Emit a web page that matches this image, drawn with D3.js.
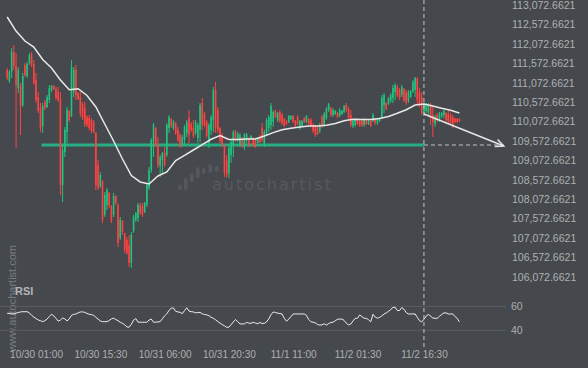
<!DOCTYPE html>
<html>
<head>
<meta charset="utf-8">
<script src="https://cdn.jsdelivr.net/npm/d3@7"></script>
<style>
  html, body { margin: 0; padding: 0; background: #45484c; }
  svg { display: block; font-family: "Liberation Sans", Arial, sans-serif; }
</style>
</head>
<body>
<svg id="chart" width="588" height="368"></svg>
<script>
// 30 minute candles, the first one opens 10/29 18:30 (UTC)
const firstCandle = Date.UTC(2025, 9, 29, 18, 30);
const candleMs = 30 * 60 * 1000;

const opens = [
  111398,111114,111346,111861,111501,110934,111011,110496,111527,111243,
  111578,111810,111552,111140,110702,110419,109955,110574,110445,110625,
  110883,110986,110908,110831,110651,108435,109286,109801,110342,110213,
  110831,111398,110805,110702,110522,110419,110187,110161,110110,110058,
  109775,108951,108410,108538,107663,107920,108229,107894,107663,108152,
  107920,107070,107508,107199,107019,106890,106426,107250,107534,107585,
  107920,107894,107740,107920,108358,108822,109543,109904,109466,108925,
  109079,109260,109208,109904,110136,109904,110033,109852,109723,109466,
  109595,109775,110161,110007,109904,109775,109646,109852,110548,110264,
  110058,109517,109852,110110,110883,110367,109904,109723,109440,109079,
  108745,109208,109466,109801,109595,109466,109646,109414,109569,109646,
  109595,109646,109595,109517,109672,109904,109466,109775,109904,109981,
  110058,110342,110110,110316,110239,110136,110084,110058,110136,110213,
  110084,110187,109904,109955,110161,110058,110136,110110,109981,109930,
  109930,109826,110187,109981,110161,110367,110419,110239,110264,110290,
  110213,110264,110316,110496,110393,110239,109955,109981,110136,110084,
  110084,109981,110110,110007,110084,110084,110136,110033,110084,110187,
  110496,110548,110522,110599,110677,110831,110960,110883,110754,110908,
  110831,110599,110702,110857,110883,111166,110831,110702,110290,110342,
  110316,110496,110239,110007,110239,110110,110213,110239,110290,110264,
  110239,110187,110136,110136,110136
];
const highs = [
  111449,111398,111965,112042,111836,111475,111063,111321,111578,111604,
  111836,111861,111655,111321,110831,110548,110548,110625,110754,111011,
  111011,111011,110960,110960,110831,109466,109930,110445,110367,111655,
  111475,111527,110831,110831,110574,110574,110239,110239,110161,110110,
  109801,109079,108770,108564,108255,108358,108255,107920,108229,108178,
  107972,107611,107534,107199,107096,107147,107225,107663,107740,107972,
  107972,107972,107997,108487,108899,109646,110033,109930,109672,109208,
  109286,109414,110033,110239,110161,110110,110058,109930,109775,109723,
  109981,110110,110367,110058,110110,110110,110033,110548,110677,110316,
  110110,110033,110239,110960,111089,110445,109930,109775,109466,109208,
  109466,109595,109852,109852,109801,109775,109672,109775,109775,109672,
  109723,109672,109646,109672,109723,110033,109852,110161,110239,110548,
  110367,110367,110316,110367,110290,110161,110110,110239,110239,110239,
  110110,110239,110110,110110,110187,110239,110161,110161,110033,109981,
  109981,110033,110239,110316,110445,110548,110445,110419,110367,110316,
  110419,110367,110496,110548,110445,110367,110110,110161,110161,110110,
  110110,110161,110110,110110,110110,110290,110161,110161,110187,110754,
  110805,110574,110702,110805,111011,111063,111011,110934,111011,110934,
  110883,110883,110883,111140,111217,111217,110934,110831,110574,110548,
  110548,110548,110445,110239,110290,110316,110316,110367,110316,110367,
  110290,110239,110161,110161,110161
];
const lows = [
  111140,111063,111192,111398,109389,110805,109723,110445,111217,111192,
  111527,111475,111011,110548,110290,109801,109775,110367,110419,110548,
  110831,110883,110625,110574,108178,107997,109157,109517,110058,110187,
  110702,110625,110625,110187,110110,109930,109930,109852,109775,109775,
  108307,108307,108358,107456,107611,107791,107843,107456,107611,107920,
  106838,107019,107147,106684,106632,106323,106297,107199,107482,107482,
  107663,107611,107714,107869,108307,108745,109157,109414,108873,108641,
  108745,108899,109157,109775,109904,109852,109723,109543,109389,109414,
  109466,109672,109517,109801,109646,109723,109517,109543,109852,109930,
  109646,109389,109723,109801,109775,109775,109517,109414,108641,108616,
  108616,109002,109157,109543,109543,109414,109389,109337,109517,109414,
  109595,109414,109389,109517,109517,109543,109414,109723,109801,109852,
  109930,110161,110058,110033,109981,109930,109981,110033,110110,110033,
  109930,109981,109852,109930,110033,110033,109981,109930,109775,109672,
  109723,109775,109904,109930,110110,110316,110187,110187,110239,110161,
  110187,110239,110290,110316,110110,109930,109904,109930,109981,109930,
  109930,109930,109981,109981,109930,110058,109981,109981,110058,110161,
  110290,110367,110496,110548,110548,110625,110702,110625,110702,110574,
  110496,110548,110677,110805,110702,110496,110445,110239,110239,110290,
  110239,109981,109672,109930,110058,110058,110161,110161,110058,110033,
  109981,109904,110033,110033,110058
];
const closes = [
  111192,111346,111861,111501,111011,111398,110496,111243,111269,111552,
  111784,111527,111063,110625,110342,109904,110470,110419,110702,110934,
  110986,110908,110677,110625,108435,109337,109852,110367,110110,111475,
  111398,110754,110651,110264,110161,110007,109981,109904,109826,109801,
  108435,108358,108693,107534,108178,108307,107894,107508,108152,107972,
  106941,107534,107225,106761,106684,106426,107147,107611,107714,107920,
  107714,107663,107972,108435,108822,109595,109981,109466,108951,109157,
  109260,108951,109981,110187,109955,110058,109775,109595,109440,109672,
  109930,110058,109723,109852,109698,110058,109981,110496,109981,109981,
  109698,109981,110187,110883,109904,109852,109569,109466,108745,108693,
  109389,109543,109801,109595,109749,109723,109440,109723,109749,109466,
  109698,109466,109414,109646,109543,109595,109801,110110,110187,110470,
  110316,110187,110290,110084,110033,109955,110007,110213,110213,110058,
  109955,110007,110084,110084,110058,110213,110007,109955,109826,109723,
  109749,109981,109955,110264,110393,110522,110239,110367,110342,110187,
  110367,110342,110470,110367,110161,109981,110084,110136,110007,109955,
  109981,110136,110007,110084,109955,110239,110033,110136,110161,110677,
  110754,110393,110677,110754,110934,111011,110754,110677,110960,110625,
  110548,110831,110857,111089,111192,110625,110496,110290,110522,110496,
  110522,110161,110058,110187,110110,110264,110290,110342,110110,110084,
  110033,109981,110058,110058,110084
];

// RSI, one value per candle
const rsiValues = [
  54.2,54.0,53.8,53.7,54.3,54.8,55.3,55.5,55.5,55.5,
  54.5,52.5,51.0,49.8,48.6,48.0,47.2,48.0,49.4,51.5,
  53.4,52.0,50.0,47.6,48.5,50.3,49.5,47.8,49.5,52.5,
  53.3,53.6,54.5,55.3,55.3,55.0,54.0,53.4,53.0,52.5,
  50.8,49.3,47.8,47.2,47.2,47.2,48.2,49.5,50.1,49.0,
  48.0,46.7,45.8,44.6,42.8,42.6,45.0,48.5,49.8,46.8,
  46.7,46.7,46.7,46.7,48.5,49.4,46.7,46.8,47.0,47.2,
  49.5,52.0,53.8,56.5,58.5,58.6,55.8,55.3,55.0,53.8,
  56.5,58.8,56.0,55.5,55.3,54.6,54.7,55.0,53.7,53.2,
  52.9,52.2,50.8,50.0,48.8,47.3,46.0,44.8,43.7,42.5,
  42.6,44.7,47.0,49.0,47.3,45.3,45.3,45.3,46.6,46.0,
  45.8,46.7,46.0,45.5,46.5,45.7,45.8,47.0,49.5,53.0,
  55.3,54.8,54.3,54.0,53.6,50.0,47.6,49.2,51.5,53.6,
  53.6,53.6,53.6,53.6,53.6,52.5,49.0,47.1,46.7,46.2,
  44.8,44.4,44.5,45.5,44.3,45.6,46.5,46.7,48.0,49.2,
  49.3,49.4,48.2,45.9,44.5,45.2,47.8,50.0,50.0,52.8,
  51.5,50.0,50.0,48.8,47.0,53.3,51.0,50.1,50.7,52.0,
  53.5,54.5,55.8,57.3,59.0,59.2,56.5,56.5,58.9,57.5,
  54.8,53.6,53.6,53.6,53.6,50.8,48.0,47.0,49.2,51.8,
  53.2,51.8,50.2,50.0,50.0,51.7,53.2,54.5,54.5,53.6,
  53.6,53.6,51.5,50.0,47.0
];

// moving average, read every 4th candle
const maStep = 4;
const maValues = [
  112763,112402,112145,111990,111668,111449,111140,110891,110916,110741,
  110445,110007,109569,109105,108680,108513,108461,108667,108770,109067,
  109198,109337,109476,109613,109711,109607,109607,109620,109620,109698,
  109785,109860,109896,109930,109955,109955,109973,110022,110089,110130,
  110123,110123,110148,110200,110282,110375,110496,110522,110470,110411,
  110362,110290
];

// pattern: support level, end of pattern and forecast
const supportLevel = 109466;
const supportFrom = Date.UTC(2025, 9, 30, 2, 15);
const patternEnd = Date.UTC(2025, 10, 2, 16, 30);
const forecastStartPrice = 110264;
const forecastEnd = Date.UTC(2025, 10, 3, 10, 30);
const forecastEndPrice = 109440;

const priceTicks = [
  106072.6621,106572.6621,107072.6621,107572.6621,108072.6621,
  108572.6621,109072.6621,109572.6621,110072.6621,110572.6621,
  111072.6621,111572.6621,112072.6621,112572.6621,113072.6621
];
const timeTicks = [
  Date.UTC(2025, 9, 30, 1, 0), Date.UTC(2025, 9, 30, 15, 30),
  Date.UTC(2025, 9, 31, 6, 0), Date.UTC(2025, 9, 31, 20, 30),
  Date.UTC(2025, 10, 1, 11, 0), Date.UTC(2025, 10, 2, 1, 30),
  Date.UTC(2025, 10, 2, 16, 30)
];
const rsiTicks = [40, 60];

const green = '#22c27f', red = '#ff4242';

const candles = opens.map((o, i) => ({
  t: firstCandle + i * candleMs, o: o, h: highs[i], l: lows[i], c: closes[i], rsi: rsiValues[i]
}));
const ma = maValues.map((v, k) => ({ t: firstCandle + k * maStep * candleMs, v: v }));

const svg = d3.select('#chart');

// scales
const x = d3.scaleUtc()
  .domain([firstCandle, Date.UTC(2025, 10, 3, 12, 0)])
  .range([7.2, 510.4]);
const y = d3.scaleLinear().domain([106072.6621, 113072.6621]).range([276.7, 5]);
const rsiY = d3.scaleLinear().domain([40, 60]).range([330.3, 306.3]);

svg.append('rect').attr('width', 588).attr('height', 368).attr('fill', '#45484c');

// watermark
const logo = svg.append('g').attr('fill', '#54575c');
[[178, 185, 190], [184, 178, 190], [190, 173, 182], [196, 167, 178], [202, 168, 174], [208.5, 164, 173], [215, 166, 172]]
  .forEach(b => {
    logo.append('rect').attr('x', b[0]).attr('y', b[1]).attr('width', 3.6)
      .attr('height', b[2] - b[1]).attr('rx', 1.8);
  });
svg.append('text')
  .attr('x', 212).attr('y', 190)
  .attr('fill', '#56595e')
  .style('font-family', '"DejaVu Sans", sans-serif')
  .style('font-size', '16px')
  .style('letter-spacing', '2px')
  .text('autochartist');

svg.append('text')
  .attr('transform', 'translate(16,352) rotate(-90)')
  .attr('fill', '#7a7d82')
  .style('font-size', '11px')
  .text('www.autochartist.com');

// RSI panel
svg.append('g').selectAll('line').data(rsiTicks).join('line')
  .attr('x1', 0).attr('x2', 506)
  .attr('y1', d => rsiY(d)).attr('y2', d => rsiY(d))
  .attr('stroke', '#5a5d62').attr('stroke-width', 1);

svg.append('text')
  .attr('x', 15).attr('y', 295)
  .attr('fill', '#b3b5b8')
  .style('font-size', '11px').style('font-weight', 'bold')
  .text('RSI');

svg.append('path')
  .datum(candles)
  .attr('fill', 'none')
  .attr('stroke', '#eeeeee')
  .attr('stroke-width', 1)
  .attr('d', d3.line().x(d => x(d.t)).y(d => rsiY(d.rsi)));

// support line
svg.append('line')
  .attr('x1', x(supportFrom)).attr('x2', x(patternEnd))
  .attr('y1', y(supportLevel)).attr('y2', y(supportLevel))
  .attr('stroke', '#27ad82').attr('stroke-width', 3);

// candles
const cg = svg.append('g');
cg.selectAll('line').data(candles).join('line')
  .attr('x1', d => x(d.t)).attr('x2', d => x(d.t))
  .attr('y1', d => y(d.h)).attr('y2', d => y(d.l))
  .attr('stroke', d => d.c >= d.o ? green : red)
  .attr('stroke-width', 1);
cg.selectAll('rect').data(candles).join('rect')
  .attr('x', d => x(d.t) - 0.8)
  .attr('width', 1.6)
  .attr('y', d => y(Math.max(d.o, d.c)))
  .attr('height', d => Math.max(1, Math.abs(y(d.o) - y(d.c))))
  .attr('fill', d => d.c >= d.o ? green : red);

// moving average
svg.append('path')
  .datum(ma)
  .attr('fill', 'none')
  .attr('stroke', '#e8e8e8')
  .attr('stroke-width', 1.5)
  .attr('d', d3.line().x(d => x(d.t)).y(d => y(d.v)));

// dashed guides
svg.append('line')
  .attr('x1', x(patternEnd)).attr('x2', x(patternEnd))
  .attr('y1', 0).attr('y2', 349)
  .attr('stroke', '#c4c6c9').attr('stroke-width', 1)
  .attr('stroke-dasharray', '4,3');
svg.append('line')
  .attr('x1', x(patternEnd)).attr('x2', x(forecastEnd))
  .attr('y1', y(supportLevel)).attr('y2', y(supportLevel))
  .attr('stroke', '#c4c6c9').attr('stroke-width', 1)
  .attr('stroke-dasharray', '4,3');

// forecast arrow
const ax0 = x(patternEnd), ay0 = y(forecastStartPrice);
const ax1 = x(forecastEnd), ay1 = y(forecastEndPrice);
const ang = Math.atan2(ay1 - ay0, ax1 - ax0);
const head = 9, spread = 25 * Math.PI / 180;
svg.append('line')
  .attr('x1', ax0).attr('y1', ay0).attr('x2', ax1).attr('y2', ay1)
  .attr('stroke', '#e6e6e6').attr('stroke-width', 1.5);
svg.append('path')
  .attr('d', `M${ax1 - head * Math.cos(ang - spread)},${ay1 - head * Math.sin(ang - spread)}L${ax1},${ay1}L${ax1 - head * Math.cos(ang + spread)},${ay1 - head * Math.sin(ang + spread)}`)
  .attr('fill', 'none').attr('stroke', '#e6e6e6').attr('stroke-width', 1.5);

// axes
const priceAxis = svg.append('g')
  .attr('transform', 'translate(512,0)')
  .call(d3.axisRight(y).tickValues(priceTicks).tickFormat(d3.format(',.4f')).tickSize(0).tickPadding(0));
const rsiAxis = svg.append('g')
  .attr('transform', 'translate(511,0)')
  .call(d3.axisRight(rsiY).tickValues(rsiTicks).tickSize(0).tickPadding(0));
const timeAxis = svg.append('g')
  .attr('transform', 'translate(0,351)')
  .call(d3.axisBottom(x).tickValues(timeTicks).tickFormat(d3.utcFormat('%-m/%-d %H:%M')).tickSize(0).tickPadding(0));

[priceAxis, rsiAxis, timeAxis].forEach(g => {
  g.select('.domain').remove();
  g.selectAll('text')
    .attr('fill', '#aeb0b3')
    .style('font-family', '"Liberation Sans", Arial, sans-serif');
});
priceAxis.selectAll('text').style('font-size', '10.5px');
rsiAxis.selectAll('text').style('font-size', '10.5px');
timeAxis.selectAll('text').style('font-size', '10px');
</script>
</body>
</html>
